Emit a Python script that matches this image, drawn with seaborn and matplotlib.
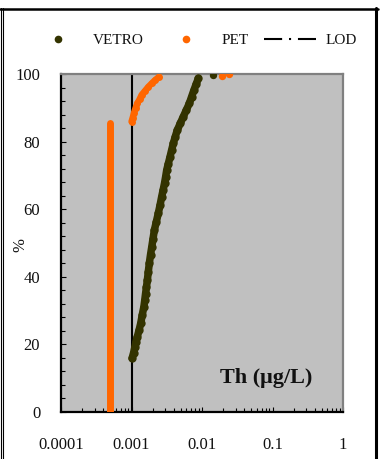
import numpy as np
import pandas as pd
import matplotlib
matplotlib.use("Agg")
import matplotlib.pyplot as plt
import seaborn as sns
from matplotlib.lines import Line2D
from matplotlib.ticker import FixedLocator, LogLocator, NullFormatter

# ---------------- data ----------------
vetro_pct = [15.9, 17.5, 19.3, 20.8, 22.3, 24.2, 26.2, 28.7, 31.2, 33.0, 34.9, 37.0,
             39.1, 41.5, 44.0, 46.5, 48.9, 51.3, 53.8, 56.3, 58.8, 61.2, 63.7, 65.7,
             67.7, 69.6, 71.6, 73.5, 75.5, 77.5, 79.5, 81.5, 83.4, 85.4, 87.4, 89.3,
             91.3, 93.3, 95.3, 97.0, 98.7]
vetro_val = [0.00102, 0.00107, 0.00112, 0.00116, 0.00121, 0.00128, 0.00135, 0.00142,
             0.00150, 0.00154, 0.00158, 0.00163, 0.00168, 0.00173, 0.00179, 0.00186,
             0.00194, 0.00202, 0.00211, 0.00225, 0.00240, 0.00254, 0.00268, 0.00281,
             0.00294, 0.00305, 0.00316, 0.00333, 0.00352, 0.00371, 0.00392, 0.00418,
             0.00446, 0.00492, 0.00543, 0.00598, 0.00661, 0.00713, 0.00770, 0.00826,
             0.00887]
vetro_out_pct = [99.6]
vetro_out_val = [0.0142]

pet_low_pct = [0, 10, 20, 30, 40, 50, 60, 70, 80, 85.4]
pet_low_val = [0.0005, 0.0005, 0.0005, 0.0005, 0.0005, 0.0005, 0.0005, 0.0005, 0.0005, 0.0005]
pet_up_pct = [85.9, 87.1, 88.4, 89.9, 91.3, 92.5, 93.8, 95.0, 96.2, 97.2, 98.2, 99.2]
pet_up_val = [0.00100, 0.00104, 0.00108, 0.00114, 0.00121, 0.00130, 0.00139, 0.00155,
              0.00173, 0.00193, 0.00216, 0.00247]
pet_out_pct = [99.4, 100.0]
pet_out_val = [0.019, 0.024]

lod_value = 0.001

series_labels = ["VETRO", "PET", "LOD"]
x_ticks = [0.0001, 0.001, 0.01, 0.1, 1]
x_tick_labels = ["0.0001", "0.001", "0.01", "0.1", "1"]
y_ticks = [0, 20, 40, 60, 80, 100]
y_tick_labels = ["0", "20", "40", "60", "80", "100"]
y_label = "%"
annotation = "Th (μg/L)"

VETRO_C = "#333300"
PET_C = "#FF6600"

# ---------------- figure ----------------
sns.set_style("ticks")
plt.rcParams["font.family"] = ["Liberation Serif", "DejaVu Serif"]

W, H = 380, 459
fig = plt.figure(figsize=(W / 100, H / 100), dpi=100)
ax = fig.add_axes([61 / W, 1 - 412 / H, (343 - 61) / W, (412 - 74) / H])
ax.set_facecolor("#C0C0C0")

vetro_df = pd.DataFrame({"val": vetro_val, "pct": vetro_pct})
pet_low_df = pd.DataFrame({"val": pet_low_val, "pct": pet_low_pct})
pet_up_df = pd.DataFrame({"val": pet_up_val, "pct": pet_up_pct})

ax.axvline(lod_value, color="black", lw=1.5, zorder=2)

sns.lineplot(data=pet_low_df, x="val", y="pct", sort=False, estimator=None, ax=ax,
             color=PET_C, lw=5.0, solid_capstyle="round", zorder=3)
sns.lineplot(data=pet_up_df, x="val", y="pct", sort=False, estimator=None, ax=ax,
             color=PET_C, lw=4.6, marker="o", markersize=5, markeredgewidth=0,
             solid_capstyle="round", zorder=3)
sns.lineplot(data=vetro_df, x="val", y="pct", sort=False, estimator=None, ax=ax,
             color=VETRO_C, lw=5.4, marker="o", markersize=6, markeredgewidth=0,
             solid_capstyle="round", zorder=4)
sns.scatterplot(x=vetro_out_val, y=vetro_out_pct, ax=ax, color=VETRO_C, s=28,
                linewidth=0, zorder=4)
sns.scatterplot(x=pet_out_val, y=pet_out_pct, ax=ax, color=PET_C, s=28,
                linewidth=0, zorder=4)

ax.set_xscale("log")
ax.set_xlim(1e-4, 1)
ax.set_ylim(0, 100)
ax.set_xlabel("")
ax.set_ylabel("")

ax.xaxis.set_major_locator(FixedLocator(x_ticks))
ax.set_xticklabels(x_tick_labels)
ax.xaxis.set_minor_locator(LogLocator(base=10, subs=np.arange(2, 10)))
ax.xaxis.set_minor_formatter(NullFormatter())
ax.yaxis.set_major_locator(FixedLocator(y_ticks))
ax.set_yticklabels(y_tick_labels)
ax.yaxis.set_minor_locator(FixedLocator(np.arange(0, 101, 4)))

ax.tick_params(axis="both", which="both", direction="in", color="black", width=0.8,
               labelsize=12, labelcolor="#111111")
ax.tick_params(axis="both", which="major", length=3.5)
ax.tick_params(axis="both", which="minor", length=3)
ax.tick_params(axis="y", which="major", pad=15)
ax.tick_params(axis="x", which="major", pad=18)
ax.tick_params(top=False, right=False)

for side in ["left", "bottom"]:
    ax.spines[side].set_color("black")
    ax.spines[side].set_linewidth(1.6)
for side in ["top", "right"]:
    ax.spines[side].set_visible(True)
    ax.spines[side].set_color("#808080")
    ax.spines[side].set_linewidth(1.6)

fig.text(20 / W, 1 - 245 / H, y_label, rotation=90, ha="center", va="center",
         fontsize=12, color="#111111")
ax.text(0.563, 0.10, annotation, transform=ax.transAxes, ha="left", va="center",
        fontsize=16, fontweight="bold", color="#111111")

handles = [
    Line2D([], [], marker="o", color=VETRO_C, linestyle="none", markersize=5.5,
           markeredgewidth=0),
    Line2D([], [], marker="o", color=PET_C, linestyle="none", markersize=5.5,
           markeredgewidth=0),
    Line2D([], [], color="black", lw=1.5, linestyle=(0, (8.7, 3.3, 1.0, 3.3))),
]
fig.legend(handles, series_labels, loc="center", bbox_to_anchor=(194 / W, 1 - 40 / H),
           ncol=3, frameon=False, handlelength=3.45, handletextpad=0.6,
           columnspacing=1.0, prop={"family": "Liberation Serif", "size": 11},
           labelcolor="#111111")

# outer frame
fig.add_artist(Line2D([0, 378 / W], [1 - 8.5 / H, 1 - 8.5 / H], transform=fig.transFigure,
                      color="black", lw=1.8))
fig.add_artist(Line2D([376 / W, 376 / W], [0, 1 - 8 / H], transform=fig.transFigure,
                      color="black", lw=2.2))
fig.add_artist(Line2D([0.6 / W, 0.6 / W], [0, 1 - 8 / H], transform=fig.transFigure,
                      color="black", lw=0.8))
fig.add_artist(Line2D([3.5 / W, 3.5 / W], [0, 1 - 8 / H], transform=fig.transFigure,
                      color="black", lw=0.8))

fig.savefig("out.png", dpi=100, facecolor="white")
